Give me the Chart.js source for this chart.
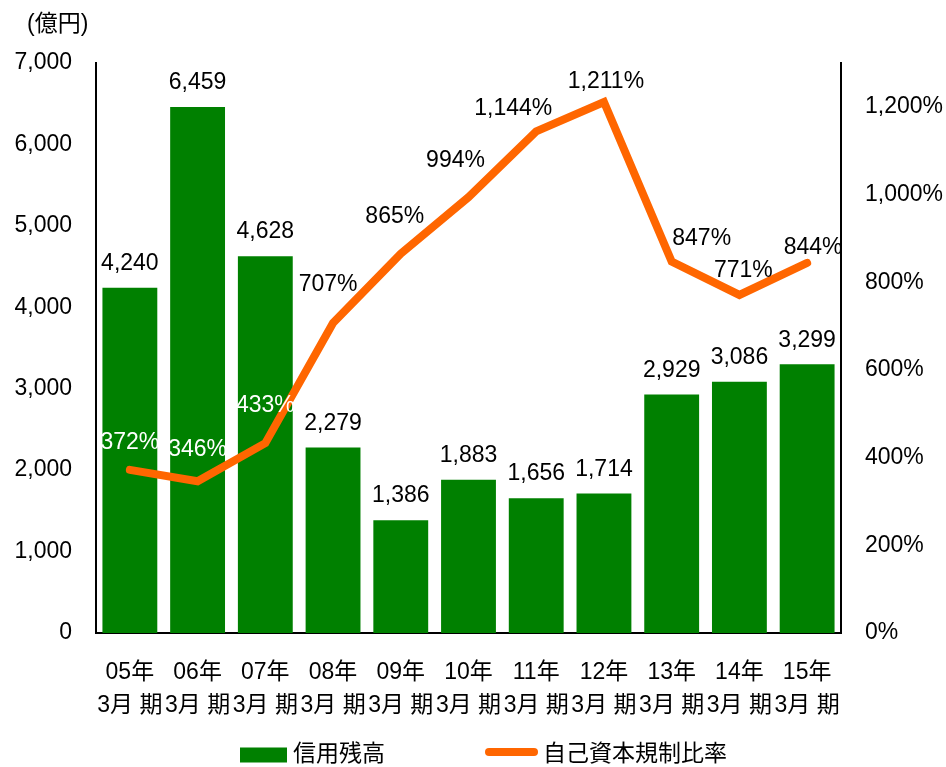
<!DOCTYPE html>
<html lang="ja">
<head>
<meta charset="utf-8">
<script src="https://cdn.jsdelivr.net/npm/chart.js@4/dist/chart.umd.min.js"></script>
<style>
  html, body { margin: 0; padding: 0; background: #ffffff; }
  #wrap { position: relative; width: 946px; height: 767px; }
</style>
</head>
<body>
<div id="wrap"><canvas id="chart"></canvas></div>
<script>
// ---- data ----
const periodYears = ['05年', '06年', '07年', '08年', '09年', '10年', '11年', '12年', '13年', '14年', '15年'];
const periodSuffix = '3月 期';
const creditBalance = [4240, 6459, 4628, 2279, 1386, 1883, 1656, 1714, 2929, 3086, 3299];
const capitalRatio = [372, 346, 433, 707, 865, 994, 1144, 1211, 847, 771, 844];
const leftTicks = [0, 1000, 2000, 3000, 4000, 5000, 6000, 7000];
const rightTicks = [0, 200, 400, 600, 800, 1000, 1200];
const seriesNames = ['信用残高', '自己資本規制比率'];
const unitLabel = '(億円)';

// ---- styles ----
const GREEN = '#008000';
const ORANGE = '#FF6600';
const FONT = "'Liberation Sans', Arial, 'Noto Sans CJK JP', sans-serif";
const FS = 23;

const labels = periodYears.map(y => [y, periodSuffix]);

const valueLabelPlugin = {
  id: 'valueLabels',
  afterDatasetsDraw(chart, args, opts) {
    const ctx = chart.ctx;
    ctx.save();
    ctx.font = FS + 'px ' + FONT;
    ctx.textAlign = 'center';
    ctx.textBaseline = 'middle';
    const barMeta = chart.getDatasetMeta(0);
    barMeta.data.forEach((el, i) => {
      ctx.fillStyle = '#000';
      ctx.fillText(creditBalance[i].toLocaleString('en-US'), el.x, el.y - opts.barGap);
    });
    const lineMeta = chart.getDatasetMeta(1);
    lineMeta.data.forEach((el, i) => {
      const off = opts.lineOffsets[i];
      ctx.fillStyle = opts.lineLabelColors[i];
      ctx.fillText(capitalRatio[i].toLocaleString('en-US') + '%', el.x + off[0], el.y + off[1]);
    });
    ctx.restore();
  },
  afterDraw(chart, args, opts) {
    const ctx = chart.ctx;
    ctx.save();
    ctx.font = FS + 'px ' + FONT;
    ctx.fillStyle = '#000';
    ctx.textBaseline = 'middle';
    ctx.textAlign = 'left';
    // unit label
    ctx.fillText(unitLabel, opts.unitX, opts.unitY);
    // legend
    const cy = opts.legendY;
    let x = opts.legendX;
    ctx.fillStyle = GREEN;
    ctx.fillRect(x, cy - 7.5, 47, 15);
    x += 47 + 6;
    ctx.fillStyle = '#000';
    ctx.fillText(seriesNames[0], x, cy);
    x += ctx.measureText(seriesNames[0]).width + 100;
    ctx.strokeStyle = ORANGE;
    ctx.lineWidth = 8;
    ctx.lineCap = 'round';
    ctx.beginPath();
    ctx.moveTo(x + 4, cy - 3);
    ctx.lineTo(x + 49, cy - 3);
    ctx.stroke();
    x += 53 + 5;
    ctx.fillStyle = '#000';
    ctx.fillText(seriesNames[1], x, cy);
    ctx.restore();
  }
};

new Chart(document.getElementById('chart'), {
  data: {
    labels: labels,
    datasets: [
      {
        type: 'bar',
        label: seriesNames[0],
        data: creditBalance,
        backgroundColor: GREEN,
        borderWidth: 0,
        yAxisID: 'y',
        barPercentage: 0.81,
        categoryPercentage: 1.0,
        order: 1
      },
      {
        type: 'line',
        label: seriesNames[1],
        data: capitalRatio,
        borderColor: ORANGE,
        backgroundColor: ORANGE,
        borderWidth: 8,
        borderCapStyle: 'round',
        borderJoinStyle: 'miter',
        pointRadius: 0,
        pointHoverRadius: 0,
        tension: 0,
        yAxisID: 'y1',
        order: 0
      }
    ]
  },
  options: {
    responsive: true,
    maintainAspectRatio: false,
    animation: false,
    events: [],
    layout: { padding: { left: 0, right: 0, top: 63, bottom: 0 } },
    scales: {
      x: {
        grid: { display: false },
        border: { display: true, color: '#000', width: 2 },
        ticks: {
          color: '#000',
          font: { family: FONT, size: FS, lineHeight: '33px' },
          padding: 15.5,
          autoSkip: false,
          maxRotation: 0,
          minRotation: 0
        },
        afterFit(s) { s.height = 134; }
      },
      y: {
        position: 'left',
        min: 0,
        max: 7000,
        grid: { display: false, drawTicks: false },
        border: { display: true, color: '#000', width: 2 },
        ticks: {
          color: '#000',
          font: { family: FONT, size: FS },
          padding: 24,
          stepSize: 1000,
          callback: v => Number(v).toLocaleString('en-US')
        },
        afterBuildTicks(s) { s.ticks = leftTicks.map(v => ({ value: v })); },
        afterFit(s) { s.width = 96; }
      },
      y1: {
        position: 'right',
        min: 0,
        max: 1300,
        grid: { display: false, drawTicks: false },
        border: { display: true, color: '#000', width: 2 },
        ticks: {
          color: '#000',
          font: { family: FONT, size: FS },
          padding: 24,
          stepSize: 200,
          callback: v => Number(v).toLocaleString('en-US') + '%'
        },
        afterBuildTicks(s) { s.ticks = rightTicks.map(v => ({ value: v })); },
        afterFit(s) { s.width = 105; }
      }
    },
    plugins: {
      title: { display: false },
      legend: { display: false },
      tooltip: { enabled: false },
      valueLabels: {
        barGap: 24,
        lineOffsets: [[0, -27], [0, -32], [0, -37], [-5, -38], [-6, -37], [-13, -37], [-23, -23], [2, -20], [30, -23], [4, -24], [6, -15]],
        lineLabelColors: ['#fff', '#fff', '#fff', '#000', '#000', '#000', '#000', '#000', '#000', '#000', '#000'],
        unitX: 27,
        unitY: 25,
        legendX: 240,
        legendY: 755
      }
    }
  },
  plugins: [valueLabelPlugin]
});
</script>
</body>
</html>
